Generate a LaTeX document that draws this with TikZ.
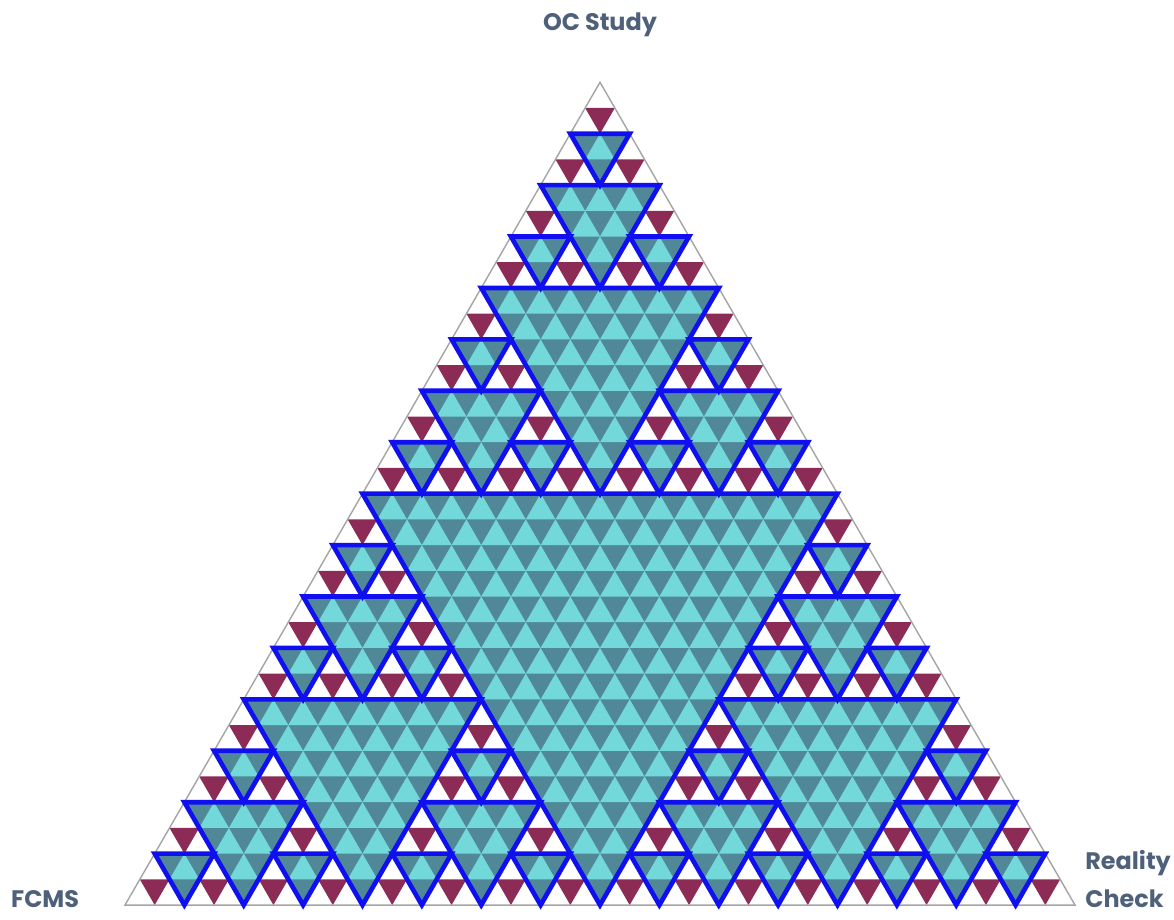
\documentclass[tikz,border=0pt]{standalone}
\usepackage{fontspec}
\setmainfont{Poppins}
\usepackage{tikz}
\usetikzlibrary{calc}
\definecolor{ocblue}{RGB}{15,15,240}
\definecolor{ocmaroon}{RGB}{140,44,86}
\definecolor{oclight}{RGB}{115,216,218}
\definecolor{ocdark}{RGB}{80,136,152}
\definecolor{ocgrey}{RGB}{165,165,165}
\definecolor{octext}{RGB}{78,96,122}

\begin{document}
\begin{tikzpicture}[x=0.7422cm, y=0.6428cm,
    hole/.style={draw=ocblue, line width=3.3pt},
    odd cell/.style={fill=white},
    centre cell/.style={fill=ocmaroon},
    corner label/.style={text=octext, font=\fontsize{17}{27}\selectfont\bfseries}]
\useasboundingbox (-4.2105,-0.5445) rectangle (35.335,35.2);
\coordinate (fc) at (0,0);
\coordinate (rc) at (32,0);
\coordinate (oc) at (16,32);
% background grid
\fill[ocdark] (fc) -- (rc) -- (oc) -- cycle;
\foreach \j in {0,...,31}{
  \pgfmathtruncatemacro\last{31-\j}
  \foreach \i in {0,...,\last}
    \fill[oclight] (\i+\j/2,\j) -- ++(1,0) -- ++(-0.5,1) -- cycle;
}
% odd cells of the triangle
\foreach \ax/\ay in {0/0,16/0,8/16}
 \foreach \bx/\by in {0/0,8/0,4/8}
  \foreach \cx/\cy in {0/0,4/0,2/4}
   \foreach \dx/\dy in {0/0,2/0,1/2}{
     \coordinate (c) at (\ax+\bx+\cx+\dx,\ay+\by+\cy+\dy);
     \fill[odd cell] (c) -- ++(2,0) -- ++(-1,2) -- cycle;
     \fill[centre cell] ($(c)+(0.5,1)$) -- ++(1,0) -- ++(-0.5,-1) -- cycle;
   }
\draw[ocgrey, line width=1pt] (fc) -- (rc) -- (oc) -- cycle;
% holes
\draw[hole] (8,16) -- (24,16) -- (16,0) -- cycle;
\foreach \ax/\ay in {0/0,16/0,8/16}{
  \draw[hole] (\ax+4,\ay+8) -- ++(8,0) -- ++(-4,-8) -- cycle;
  \foreach \bx/\by in {0/0,8/0,4/8}{
    \draw[hole] (\ax+\bx+2,\ay+\by+4) -- ++(4,0) -- ++(-2,-4) -- cycle;
    \foreach \cx/\cy in {0/0,4/0,2/4}
      \draw[hole] (\ax+\bx+\cx+1,\ay+\by+\cy+2) -- ++(2,0) -- ++(-1,-2) -- cycle;
  }
}
\node[corner label, anchor=base] (ocstudy) at (16,34.0) {OC Study};
\node[corner label, anchor=base west] (fcms) at (-4.0,-0.078) {FCMS};
\node[corner label, anchor=base west, align=left, inner sep=0pt] (reality) at (32.34,-0.08) {Reality\\Check};
\end{tikzpicture}
\end{document}
